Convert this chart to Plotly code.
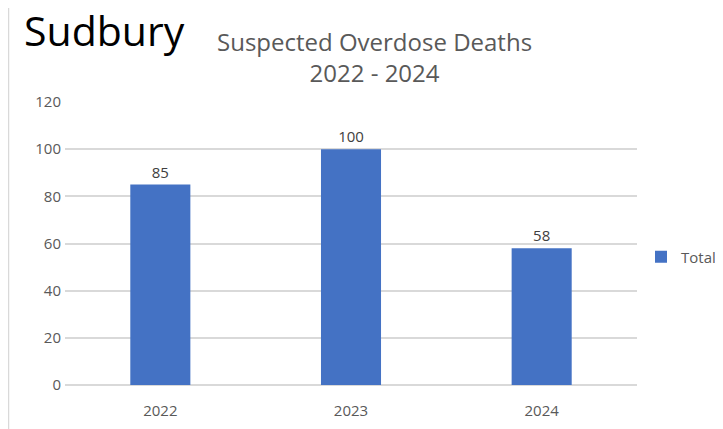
import plotly.graph_objects as go

years = ["2022", "2023", "2024"]
totals = [85, 100, 58]
series_name = "Total"
y_ticks = [0, 20, 40, 60, 80, 100, 120]

# page body adds an 8px offset; figure sized to the visible area
W, H = 715, 421
L, R, T, B = 57, 86, 94, 44
pw = W - L - R
ph = H - T - B

fig = go.Figure()
fig.add_trace(go.Bar(
    x=years, y=totals, name=series_name,
    marker=dict(color="#4472C4", line=dict(width=0)),
    text=[str(v) for v in totals], textposition="outside",
    textfont=dict(family="Open Sans", size=15, color="#404040"),
    cliponaxis=False,
))

fig.update_layout(
    width=W, height=H,
    margin=dict(l=L, r=R, t=T, b=B, autoexpand=False),
    paper_bgcolor="white", plot_bgcolor="white",
    bargap=0.685,
    showlegend=True,
    legend=dict(x=(713 - L) / pw, y=(H - B - 249) / ph, xanchor="right", yanchor="middle",
                font=dict(family="Open Sans", size=15, color="#595959"),
                bgcolor="rgba(0,0,0,0)", itemwidth=30),
    xaxis=dict(showgrid=False, showline=False, ticks="outside", ticklen=12,
               tickcolor="rgba(0,0,0,0)",
               tickfont=dict(family="Open Sans", size=15, color="#595959")),
    yaxis=dict(range=[0, 120], tickvals=y_ticks, showgrid=True, gridcolor="#D9D9D9",
               gridwidth=1.5, zeroline=True, zerolinecolor="#D9D9D9", zerolinewidth=1.5,
               showline=False, ticks="", ticklabelstandoff=3,
               tickfont=dict(family="Open Sans", size=15, color="#595959")),
    annotations=[
        dict(text="Sudbury", xref="paper", yref="paper",
             x=(14 - L) / pw, y=1 + (T - 22) / ph, xanchor="left", yanchor="middle",
             showarrow=False, font=dict(family="Open Sans", size=41, color="#000000")),
        dict(text="Suspected Overdose Deaths<br>2022 - 2024", xref="paper", yref="paper",
             x=(366 - L) / pw, y=1 + (T - 49) / ph, xanchor="center", yanchor="middle",
             showarrow=False, align="center",
             font=dict(family="Open Sans", size=24, color="#595959")),
    ],
    shapes=[
        dict(type="line", xref="paper", yref="paper",
             x0=(0.5 - L) / pw, x1=(0.5 - L) / pw, y0=-B / ph, y1=1 + T / ph,
             line=dict(color="#D9D9D9", width=1.5)),
    ],
)

fig.write_html("out.html")
